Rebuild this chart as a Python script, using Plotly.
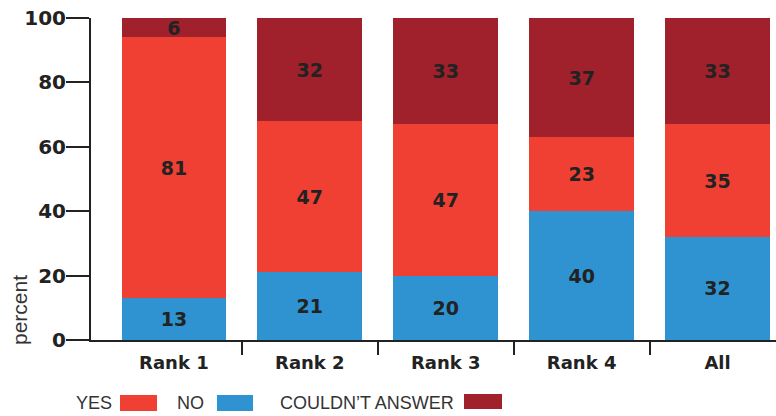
import plotly.graph_objects as go

categories = ["Rank 1", "Rank 2", "Rank 3", "Rank 4", "All"]
no_vals = [13, 21, 20, 40, 32]
yes_vals = [81, 47, 47, 23, 35]
ca_vals = [6, 32, 33, 37, 33]
y_ticks = [0, 20, 40, 60, 80, 100]

C_YES = "#F04034"
C_NO = "#2E93D0"
C_CA = "#A0202B"
TXT = "#222222"
NUMFONT = "DejaVu Sans"

fig = go.Figure()
for name, vals, col in [("NO", no_vals, C_NO), ("YES", yes_vals, C_YES), ("COULDN'T ANSWER", ca_vals, C_CA)]:
    fig.add_trace(go.Bar(
        x=categories, y=vals, name=name, marker=dict(color=col, line=dict(width=0)),
        text=[str(v) for v in vals], textposition="inside", insidetextanchor="middle",
        textangle=0, textfont=dict(family=NUMFONT, size=19, color=TXT, weight="bold"),
        width=0.77, showlegend=False,
    ))

# invisible trace to carry the secondary (boundary-tick) axis
fig.add_trace(go.Scatter(x=[0], y=[0], xaxis="x2", mode="markers",
                         marker=dict(opacity=0), showlegend=False, hoverinfo="skip"))

W, H = 776, 416
L, R, T, B = 91, 0, 18, 76
pw, ph = W - L - R, H - T - B

def px(x):
    return (x - L) / pw

def py(y):
    return (H - B - y) / ph

annotations = []
shapes = []
legend_items = [("YES", 114, 120, 157, 395, 411, C_YES),
                ("NO", 206, 217, 253, 395, 411, C_NO),
                ("COULDN\u2019T ANSWER", 456, 464, 502, 394, 409, C_CA)]
for label, tx, x0, x1, y0, y1, col in legend_items:
    annotations.append(dict(text=label, x=px(tx), y=py(403), xref="paper", yref="paper",
                            xanchor="right", yanchor="middle", showarrow=False,
                            font=dict(family="Liberation Sans", size=18, color="#333333")))
    shapes.append(dict(type="rect", xref="paper", yref="paper", x0=px(x0), x1=px(x1),
                       y0=py(y1), y1=py(y0), fillcolor=col, line=dict(width=0)))

annotations.append(dict(text="percent", x=px(19), y=py(310), xref="paper", yref="paper",
                        textangle=-90, showarrow=False, xanchor="center", yanchor="middle",
                        font=dict(family="Liberation Sans", size=21, color="#333333")))

xr = [-0.61, 4.43]
fig.update_layout(
    width=W, height=H, margin=dict(l=L, r=R, t=T, b=B),
    barmode="stack", bargap=0.23,
    plot_bgcolor="white", paper_bgcolor="white",
    uniformtext=dict(minsize=19, mode="show"),
    xaxis=dict(range=xr, showline=True, linecolor=TXT, linewidth=2,
               ticks="", ticklabelstandoff=5,
               tickfont=dict(family=NUMFONT, size=18, color=TXT, weight="bold"),
               showgrid=False, zeroline=False),
    xaxis2=dict(range=xr, overlaying="x", side="bottom", anchor="y",
                tickvals=[0.5, 1.5, 2.5, 3.5], showticklabels=False,
                ticks="outside", ticklen=14, tickwidth=2, tickcolor=TXT,
                showline=False, showgrid=False, zeroline=False),
    yaxis=dict(range=[0, 100], tickvals=y_ticks, showline=True, linecolor=TXT, linewidth=2,
               ticks="outside", ticklen=23, tickwidth=2, tickcolor=TXT,
               tickfont=dict(family=NUMFONT, size=20, color=TXT, weight="bold"),
               showgrid=False, zeroline=False, ticklabelstandoff=-4),
    annotations=annotations, shapes=shapes,
)

fig.write_html("out.html")
